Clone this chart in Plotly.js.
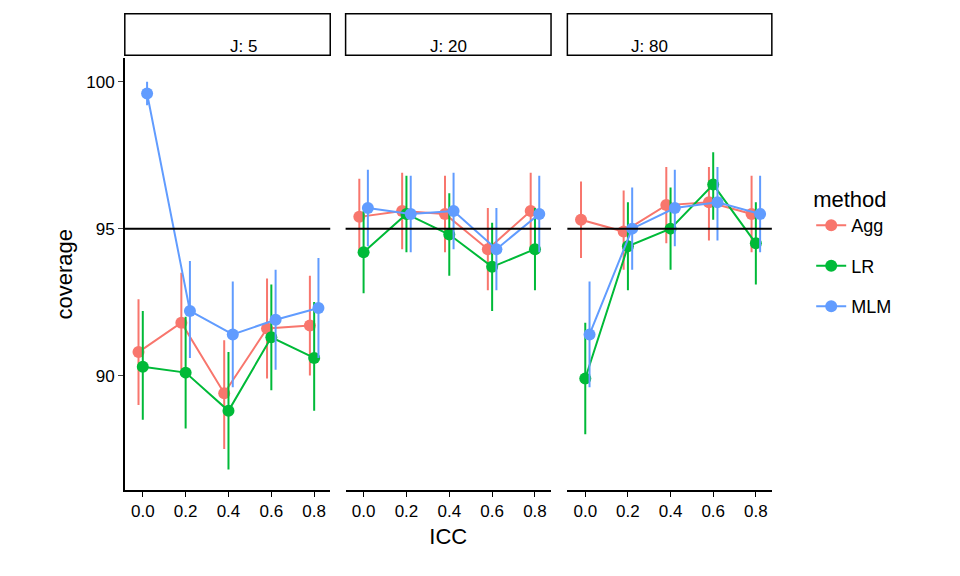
<!DOCTYPE html>
<html><head><script src="https://cdn.plot.ly/plotly-3.0.1.min.js"></script></head>
<body style="margin:0"><div id="plotDiv" style="width:960px;height:576px"></div>
<script>
const icc = [0, 0.2, 0.4, 0.6, 0.8]
const panels = ['J: 5', 'J: 20', 'J: 80']
const methods = ['Agg', 'LR', 'MLM']
const colors = {Agg: '#F8766D', LR: '#00BA38', MLM: '#619CFF'}
const dodge = {Agg: -0.02, LR: 0, MLM: 0.02}

// coverage (%), lower and upper bounds, per panel
const est = {
	Agg: [[90.8, 91.8, 89.4, 91.6, 91.7], [95.4, 95.6, 95.5, 94.3, 95.6], [95.3, 94.9, 95.8, 95.9, 95.5]],
	LR:  [[90.3, 90.1, 88.8, 91.3, 90.6], [94.2, 95.5, 94.8, 93.7, 94.3], [89.9, 94.4, 95.0, 96.5, 94.5]],
	MLM: [[99.6, 92.2, 91.4, 91.9, 92.3], [95.7, 95.5, 95.6, 94.3, 95.5], [91.4, 95.0, 95.7, 95.9, 95.5]]
}
const lo = {
	Agg: [[89.0, 90.2, 87.5, 89.9, 90.0], [94.1, 94.3, 94.2, 92.9, 94.3], [94.0, 93.6, 94.5, 94.6, 94.2]],
	LR:  [[88.5, 88.2, 86.8, 89.5, 88.8], [92.8, 94.2, 93.4, 92.2, 92.9], [88.0, 92.9, 93.6, 95.3, 93.1]],
	MLM: [[99.2, 90.6, 89.6, 90.2, 90.6], [94.4, 94.2, 94.3, 92.9, 94.2], [89.6, 93.6, 94.4, 94.6, 94.2]]
}
const hi = {
	Agg: [[92.6, 93.5, 91.2, 93.3, 93.4], [96.7, 96.9, 96.8, 95.7, 96.9], [96.6, 96.3, 97.1, 97.1, 96.8]],
	LR:  [[92.2, 92.0, 90.8, 93.1, 92.5], [95.6, 96.8, 96.2, 95.2, 95.7], [91.8, 95.9, 96.4, 97.6, 95.9]],
	MLM: [[100.0, 93.9, 93.2, 93.6, 94.0], [97.0, 96.8, 96.9, 95.7, 96.8], [93.2, 96.4, 97.0, 97.1, 96.8]]
}

const xdom = [[0.130, 0.344], [0.360, 0.574], [0.591, 0.804]]
const ydom = [0.149, 0.899]
const data = [], shapes = [], annotations = []
const layout = {
	width: 960, height: 576, margin: {l: 0, r: 0, t: 0, b: 0},
	paper_bgcolor: 'white', plot_bgcolor: 'white',
	font: {family: 'Liberation Sans, Arial', color: '#000'},
	legend: {x: 0.845, y: 0.69, xanchor: 'left', yanchor: 'top', title: {text: 'method', font: {size: 22}},
		font: {size: 18}, tracegroupgap: 14, itemwidth: 30}
}

panels.forEach((p, i) => {
	const sx = i === 0 ? '' : String(i + 1)
	layout['xaxis' + sx] = {domain: xdom[i], range: [-0.084, 0.875], tickvals: icc, ticktext: icc.map(v => v.toFixed(1)),
		showgrid: false, zeroline: false, showline: true, linecolor: '#000', linewidth: 1.5, ticks: 'outside',
		ticklen: 5, tickcolor: '#000', tickfont: {size: 17}, anchor: 'y' + sx,
		title: i === 1 ? {text: 'ICC', font: {size: 22}, standoff: 8} : undefined}
	layout['yaxis' + sx] = {domain: ydom, range: [86.1, 100.8], tickvals: [90, 95, 100], ticksuffix: '%',
		showgrid: false, zeroline: false, showline: i === 0, linecolor: '#000', linewidth: 1.5,
		ticks: i === 0 ? 'outside' : '', ticklen: 5, showticklabels: i === 0, tickfont: {size: 17}, anchor: 'x' + sx,
		title: i === 0 ? {text: 'coverage', font: {size: 22}, standoff: 8} : undefined}
	shapes.push({type: 'line', xref: 'x' + sx + ' domain', yref: 'y' + sx, x0: 0, x1: 1, y0: 95, y1: 95,
		line: {color: '#000', width: 2}})
	shapes.push({type: 'rect', xref: 'paper', yref: 'paper', x0: xdom[i][0], x1: xdom[i][1], y0: 0.904, y1: 0.976,
		line: {color: '#000', width: 1.5}, fillcolor: 'white'})
	annotations.push({xref: 'paper', yref: 'paper', x: (xdom[i][0] + xdom[i][1]) / 2, y: 0.94, text: p,
		showarrow: false, font: {size: 17}})
	methods.forEach(m => {
		data.push({
			type: 'scatter', mode: 'lines+markers', name: m, legendgroup: m, showlegend: i === 0,
			x: icc.map(v => v + dodge[m]), y: est[m][i], xaxis: 'x' + sx, yaxis: 'y' + sx,
			line: {color: colors[m], width: 2}, marker: {color: colors[m], size: 12},
			error_y: {type: 'data', symmetric: false, array: hi[m][i].map((h, k) => h - est[m][i][k]),
				arrayminus: lo[m][i].map((l, k) => est[m][i][k] - l), width: 0, thickness: 2, color: colors[m]}
		})
	})
})
layout.shapes = shapes
layout.annotations = annotations
Plotly.newPlot('plotDiv', data, layout, {displayModeBar: false})
</script></body></html>
